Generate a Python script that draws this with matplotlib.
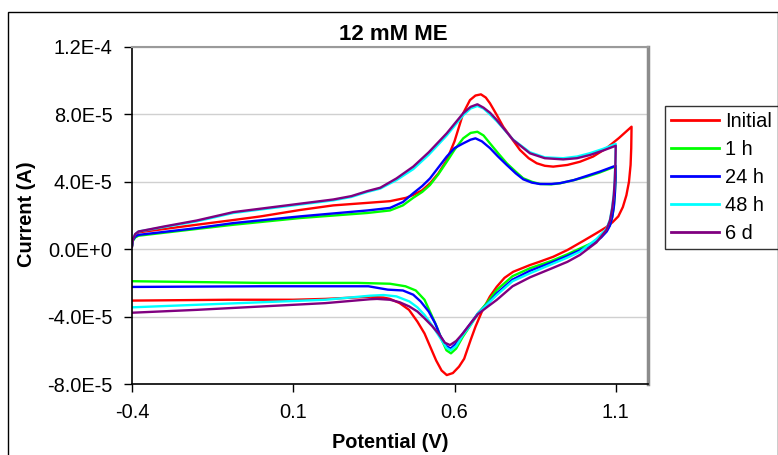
#!/usr/bin/env python3
"""
Cyclic voltammograms of 12 mM ME recorded over time
"""

import matplotlib
matplotlib.use('Agg')
import matplotlib.pyplot as plt
from matplotlib.patches import Rectangle

# Current values are read in units of 1E-5 A
SCALE = 1e-5

series_labels = ['Initial', '1 h', '24 h', '48 h', '6 d']
series_colors = ['#FF0000', '#00FF00', '#0000FF', '#00FFFF', '#800080']

# Initial : forward sweep then reverse sweep
initial_v = [-0.400, -0.397, -0.39, -0.38, -0.30, -0.20, -0.086, 0.0, 0.122, 0.224, 0.33, 0.40, 0.45,
             0.472, 0.50, 0.524, 0.55, 0.576, 0.60, 0.627, 0.648, 0.665, 0.682, 0.697, 0.71, 0.73,
             0.751, 0.78, 0.803, 0.83, 0.855, 0.88, 0.906, 0.95, 0.989, 1.03, 1.071, 1.11, 1.149,
             1.148, 1.146, 1.141, 1.133, 1.122, 1.108, 1.09, 1.07, 1.04, 1.0, 0.95, 0.906,
             0.863, 0.834, 0.782, 0.755, 0.731, 0.71, 0.685, 0.665, 0.65, 0.63, 0.614, 0.595, 0.576,
             0.56, 0.543, 0.525, 0.507, 0.485, 0.459, 0.43, 0.40, 0.38, 0.34, 0.2, 0.1, -0.1, -0.4]
initial_i = [0.2, 0.6, 0.85, 1.0, 1.2, 1.45, 1.73, 1.95, 2.33, 2.6, 2.75, 2.85, 3.05,
             3.22, 3.5, 3.91, 4.5, 5.29, 6.4, 8.07, 8.85, 9.12, 9.19, 9.0, 8.66, 8.0,
             7.27, 6.5, 5.89, 5.4, 5.1, 4.95, 4.9, 5.0, 5.19, 5.5, 5.99, 6.6, 7.27,
             6.0, 5.0, 4.0, 3.2, 2.5, 1.95, 1.6, 1.3, 0.95, 0.5, -0.05, -0.45,
             -0.75, -0.94, -1.34, -1.7, -2.23, -2.8, -3.7, -4.6, -5.39, -6.5, -6.97, -7.35, -7.47,
             -7.2, -6.6, -5.8, -5.0, -4.3, -3.6, -3.2, -2.95, -2.87, -2.82, -2.95, -3.0, -3.0, -3.05]

h1_v = [-0.400, -0.397, -0.39, -0.38, -0.2, -0.086, 0.122, 0.33, 0.40, 0.44, 0.472, 0.50, 0.524, 0.55,
        0.576, 0.60, 0.627, 0.65, 0.671, 0.69, 0.71, 0.735, 0.762, 0.79, 0.813, 0.84, 0.865, 0.9,
        0.927, 0.97, 1.01, 1.05, 1.092, 1.10,
        1.099, 1.097, 1.094, 1.089, 1.082, 1.072, 1.055, 1.03, 0.99, 0.95, 0.9, 0.834, 0.78, 0.731,
        0.70, 0.673, 0.65, 0.626, 0.605, 0.589, 0.575, 0.561, 0.545, 0.531, 0.507, 0.48, 0.448,
        0.40, 0.3, 0.0, -0.2, -0.4]
h1_i = [0.2, 0.5, 0.7, 0.8, 1.2, 1.45, 1.85, 2.15, 2.3, 2.6, 3.05, 3.4, 3.81, 4.45,
        5.19, 5.9, 6.58, 6.9, 6.97, 6.75, 6.28, 5.7, 5.1, 4.6, 4.21, 4.0, 3.87, 3.85,
        3.91, 4.1, 4.3, 4.55, 4.86, 4.92,
        4.0, 3.2, 2.5, 1.9, 1.45, 1.1, 0.75, 0.4, 0.05, -0.3, -0.7, -1.13, -1.6, -2.42,
        -3.2, -3.8, -4.5, -5.19, -5.9, -6.18, -6.0, -5.4, -4.6, -4.0, -3.0, -2.45, -2.2,
        -2.05, -2.0, -2.0, -1.95, -1.9]

h24_v = [-0.400, -0.397, -0.39, -0.38, -0.2, -0.086, 0.122, 0.33, 0.40, 0.44, 0.472, 0.50, 0.524, 0.55,
         0.576, 0.60, 0.627, 0.65, 0.665, 0.685, 0.71, 0.735, 0.762, 0.79, 0.813, 0.84, 0.865, 0.9,
         0.927, 0.97, 1.01, 1.05, 1.092, 1.10,
         1.099, 1.097, 1.094, 1.089, 1.082, 1.072, 1.055, 1.03, 0.99, 0.95, 0.9, 0.834, 0.78, 0.731,
         0.70, 0.673, 0.65, 0.626, 0.605, 0.588, 0.575, 0.555, 0.54, 0.52, 0.495, 0.472, 0.44,
         0.393, 0.333, 0.0, -0.4]
h24_i = [0.2, 0.55, 0.75, 0.85, 1.25, 1.55, 1.95, 2.3, 2.45, 2.8, 3.32, 3.75, 4.2, 4.85,
         5.5, 6.0, 6.28, 6.5, 6.58, 6.4, 6.0, 5.5, 5.0, 4.5, 4.15, 3.95, 3.87, 3.87,
         3.92, 4.1, 4.35, 4.6, 4.9, 4.95,
         4.0, 3.2, 2.5, 1.9, 1.4, 1.05, 0.7, 0.3, -0.05, -0.4, -0.8, -1.28, -1.8, -2.62,
         -3.3, -3.8, -4.4, -5.0, -5.6, -5.9, -5.75, -5.1, -4.4, -3.7, -3.1, -2.7, -2.45,
         -2.4, -2.2, -2.2, -2.24]

h48_v = [-0.400, -0.397, -0.39, -0.38, -0.2, -0.086, 0.1, 0.224, 0.28, 0.33, 0.37, 0.42, 0.472, 0.52,
         0.576, 0.627, 0.65, 0.671, 0.69, 0.71, 0.731, 0.782, 0.834, 0.88, 0.937, 0.98, 1.02, 1.06,
         1.10,
         1.099, 1.097, 1.094, 1.089, 1.082, 1.071, 1.04, 0.989, 0.95, 0.9, 0.834, 0.78, 0.731, 0.70,
         0.673, 0.65, 0.626, 0.605, 0.588, 0.575, 0.55, 0.53, 0.507, 0.485, 0.46, 0.42, 0.38, 0.338,
         0.2, 0.0, -0.2, -0.4]
h48_i = [0.2, 0.65, 0.9, 1.05, 1.65, 2.15, 2.6, 2.9, 3.1, 3.4, 3.6, 4.1, 4.75, 5.6,
         6.75, 7.95, 8.35, 8.5, 8.35, 8.0, 7.6, 6.5, 5.75, 5.45, 5.4, 5.5, 5.7, 5.95,
         6.25,
         5.2, 4.2, 3.3, 2.5, 1.75, 1.2, 0.6, -0.15, -0.5, -0.9, -1.43, -1.9, -2.72, -3.3,
         -3.8, -4.5, -5.1, -5.75, -6.0, -5.85, -5.1, -4.5, -3.9, -3.45, -3.1, -2.8, -2.72, -2.76,
         -3.0, -3.15, -3.3, -3.45]

d6_v = [-0.400, -0.397, -0.39, -0.38, -0.3, -0.2, -0.086, 0.1, 0.224, 0.28, 0.33, 0.37, 0.42, 0.472,
        0.52, 0.576, 0.627, 0.65, 0.671, 0.69, 0.71, 0.731, 0.782, 0.834, 0.88, 0.937, 0.98, 1.02,
        1.06, 1.10,
        1.099, 1.097, 1.094, 1.089, 1.082, 1.071, 1.04, 0.989, 0.95, 0.9, 0.834, 0.78, 0.731, 0.70,
        0.673, 0.65, 0.626, 0.605, 0.586, 0.57, 0.55, 0.53, 0.507, 0.485, 0.46, 0.43, 0.40, 0.36,
        0.338, 0.2, 0.0, -0.2, -0.4]
d6_i = [0.15, 0.6, 0.9, 1.05, 1.35, 1.7, 2.2, 2.65, 2.95, 3.15, 3.45, 3.65, 4.2, 4.9,
        5.75, 6.88, 8.07, 8.45, 8.6, 8.4, 8.1, 7.67, 6.48, 5.69, 5.4, 5.33, 5.4, 5.59,
        5.85, 6.14,
        5.1, 4.1, 3.2, 2.4, 1.7, 1.14, 0.4, -0.34, -0.75, -1.15, -1.67, -2.2, -3.01, -3.45,
        -3.85, -4.4, -5.0, -5.45, -5.69, -5.55, -5.0, -4.55, -4.1, -3.7, -3.4, -3.15, -3.0, -2.95,
        -2.97, -3.2, -3.4, -3.6, -3.77]

x_ticks = [-0.4, 0.1, 0.6, 1.1]
x_tick_labels = ['-0.4', '0.1', '0.6', '1.1']
y_ticks = [-8e-5, -4e-5, 0.0, 4e-5, 8e-5, 1.2e-4]
y_tick_labels = ['-8.0E-5', '-4.0E-5', '0.0E+0', '4.0E-5', '8.0E-5', '1.2E-4']

W, H = 778, 455


def creer_graphique():
    plt.rcParams['font.family'] = ['Liberation Sans', 'DejaVu Sans']
    fig = plt.figure(figsize=(W / 100, H / 100), dpi=100)

    # plot area in pixels: left 132, right 648, top 47, bottom 384
    ax = fig.add_axes([132 / W, 1 - 384 / H, (648 - 132) / W, (384 - 47) / H])

    # chart area frame
    fig.patches.append(Rectangle((7.5 / W, -0.05), (777.5 - 7.5) / W, 1.05 - 12.5 / H,
                                 transform=fig.transFigure, fill=False,
                                 edgecolor='black', linewidth=1.0))

    donnees = [(initial_v, initial_i), (h1_v, h1_i), (h24_v, h24_i),
               (h48_v, h48_i), (d6_v, d6_i)]
    for (v, i), label, color in zip(donnees, series_labels, series_colors):
        ax.plot(v, [c * SCALE for c in i], '-', color=color, linewidth=1.7,
                label=label, solid_joinstyle='round')

    ax.set_xlim(-0.4, 1.2)
    ax.set_ylim(-8e-5, 1.2e-4)
    ax.set_xticks(x_ticks)
    ax.set_xticklabels(x_tick_labels)
    ax.set_yticks(y_ticks)
    ax.set_yticklabels(y_tick_labels)
    ax.tick_params(direction='out', length=6, width=1, labelsize=14.4, pad=8, colors='black')

    ax.grid(True, axis='y', color='#D0D0D0', linewidth=1.0)
    ax.set_axisbelow(True)

    for cote in ['left', 'bottom']:
        ax.spines[cote].set_color('black')
        ax.spines[cote].set_linewidth(1.2)
    ax.spines['top'].set_color('#9A9A9A')
    ax.spines['top'].set_linewidth(1.5)
    ax.spines['right'].set_color('#8C8C8C')
    ax.spines['right'].set_linewidth(2.5)

    fig.text(393 / W, 1 - 34 / H, '12 mM ME', fontsize=16, fontweight='bold',
             ha='center', va='center')
    fig.text(390 / W, 1 - 442 / H, 'Potential (V)', fontsize=14.4, fontweight='bold',
             ha='center', va='center')
    fig.text(27 / W, 1 - 214 / H, 'Current (A)', fontsize=14.4, fontweight='bold',
             ha='center', va='center', rotation=90)

    leg = fig.legend(loc='upper left', bbox_to_anchor=(665 / W, 1 - 105.5 / H),
                     bbox_transform=fig.transFigure, fontsize=14.4, frameon=True,
                     fancybox=False, borderaxespad=0, handlelength=2.4,
                     handletextpad=0.3, labelspacing=0.45, borderpad=0.3)
    leg.get_frame().set_edgecolor('black')
    leg.get_frame().set_linewidth(1.0)
    for ligne in leg.get_lines():
        ligne.set_linewidth(2.0)

    fig.savefig('out.png', dpi=100)


def main():
    creer_graphique()


if __name__ == "__main__":
    main()
